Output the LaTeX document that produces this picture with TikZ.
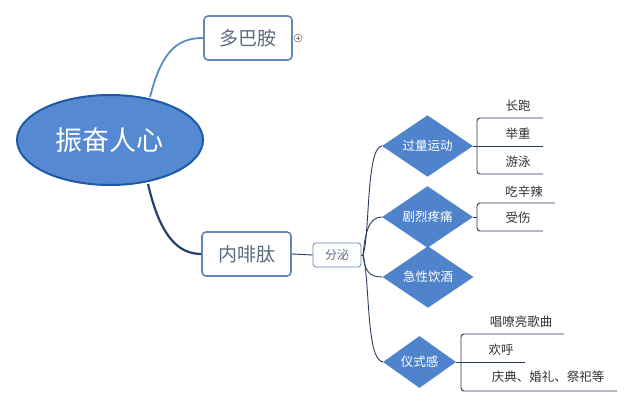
\documentclass[tikz,border=0pt]{standalone}
\usepackage{fontspec}
\setmainfont{Noto Sans CJK SC}
\usetikzlibrary{shapes.geometric}
\definecolor{ellfill}{HTML}{5589D2}
\definecolor{ellline}{HTML}{1F5AAA}
\definecolor{boxline}{HTML}{5F87B8}
\definecolor{boxtext}{HTML}{5A6B80}
\definecolor{dfill}{HTML}{4F84CC}
\definecolor{navy}{HTML}{2A3B5A}
\definecolor{lightconn}{HTML}{5B8BC4}
\definecolor{leaftext}{HTML}{333333}
\tikzset{
  topicbox/.style={draw=boxline, line width=1.6pt, rounded corners=4pt, fill=white,
    text=boxtext, font=\fontsize{19}{22}\selectfont, inner sep=0pt},
  smallbox/.style={draw=boxline, line width=0.8pt, rounded corners=3pt, fill=white,
    text=boxtext, font=\fontsize{12}{14}\selectfont, inner sep=0pt, minimum width=48pt, minimum height=24pt},
  dia/.style={diamond, fill=dfill, draw=none, text=white, inner sep=0pt,
    font=\fontsize{12.5}{14}\selectfont},
  leaf/.style={text=leaftext, font=\fontsize{12.5}{14}\selectfont, inner sep=0pt},
  conn/.style={navy, line width=0.9pt},
  brk/.style={navy, line width=0.9pt, rounded corners=3pt}
}
\begin{document}
\begin{tikzpicture}[x=1pt,y=-1pt]
\useasboundingbox (0,0) rectangle (633,406);
\fill[white] (0,0) rectangle (633,406);

% central topic
\node[ellipse, fill=ellfill, draw=ellline, line width=2pt, minimum width=186pt, minimum height=90pt,
  text=white, font=\fontsize{27}{30}\selectfont, inner sep=0pt] (root) at (110,140) {振奋人心};

% main topics
\node[topicbox, minimum width=88pt, minimum height=44pt] (dop) at (248,38) {多巴胺};
\node[topicbox, minimum width=89pt, minimum height=44pt] (endo) at (246.5,254) {内啡肽};

% collapse marker
\node[circle, draw=gray, line width=0.6pt, minimum size=8pt, inner sep=0pt] (plus) at (298,38) {};
\draw[gray, line width=0.6pt] ([xshift=-2.3pt]plus.center) -- ([xshift=2.3pt]plus.center)
  ([yshift=-2.3pt]plus.center) -- ([yshift=2.3pt]plus.center);

% root connectors
\coordinate (rtop) at (150,97);
\coordinate (rbot) at (148,184);
\draw[lightconn, line width=1.8pt] (rtop) .. controls (162,50) and (178,38) .. (dop.west);
\draw[navy!80!ellline, line width=2.2pt] (rbot) .. controls (160,236) and (178,254) .. (endo.west);

% secretion label
\node[smallbox] (fm) at (337,255) {分泌};
\draw[conn] (endo.east) -- (fm.west);

% diamonds
\node[dia, minimum width=91pt, minimum height=56pt] (d1) at (427.5,146) {过量运动};
\node[dia, minimum width=91pt, minimum height=56pt] (d2) at (427.5,217) {剧烈疼痛};
\node[dia, minimum width=91pt, minimum height=55pt] (d3) at (428,277) {急性饮酒};
\node[dia, minimum width=73pt, minimum height=52pt] (d4) at (419.5,362) {仪式感};

% split connectors
\coordinate (split) at (363,255);
\draw[conn] (fm.east) -- (split);
\draw[conn] (split) .. controls (370,235) and (366,148) .. (d1.west);
\draw[conn] (split) .. controls (365,235) and (368,217) .. (d2.west);
\draw[conn] (split) .. controls (365,270) and (368,277) .. (d3.west);
\draw[conn] (split) .. controls (370,280) and (366,360) .. (d4.west);

% group 1
\node[leaf] (l11) at (518,106) {长跑};
\node[leaf] (l12) at (518,134) {举重};
\node[leaf] (l13) at (518,162) {游泳};
\coordinate (u11) at (543,118);
\coordinate (u12) at (543,146);
\coordinate (u13) at (543,174);
\draw[brk] (u11) -- (477,118) -- (477,174) -- (u13);
\draw[conn] (d1.east) -- (u12);

% group 2
\node[leaf] (l21) at (524,192) {吃辛辣};
\node[leaf] (l22) at (518,218) {受伤};
\coordinate (u21) at (555,203);
\coordinate (u22) at (543,231);
\draw[brk] (u21) -- (477,203) -- (477,231) -- (u22);
\draw[conn] (d2.east) -- (477,217);

% group 4
\node[leaf] (l41) at (521,322) {唱嘹亮歌曲};
\node[leaf] (l42) at (501,350) {欢呼};
\node[leaf] (l43) at (548,377) {庆典、婚礼、祭祀等};
\coordinate (u41) at (564,334);
\coordinate (u42) at (525,362);
\coordinate (u43) at (617,391);
\draw[brk] (u41) -- (461,334) -- (461,391) -- (u43);
\draw[conn] (d4.east) -- (u42);
\end{tikzpicture}
\end{document}
